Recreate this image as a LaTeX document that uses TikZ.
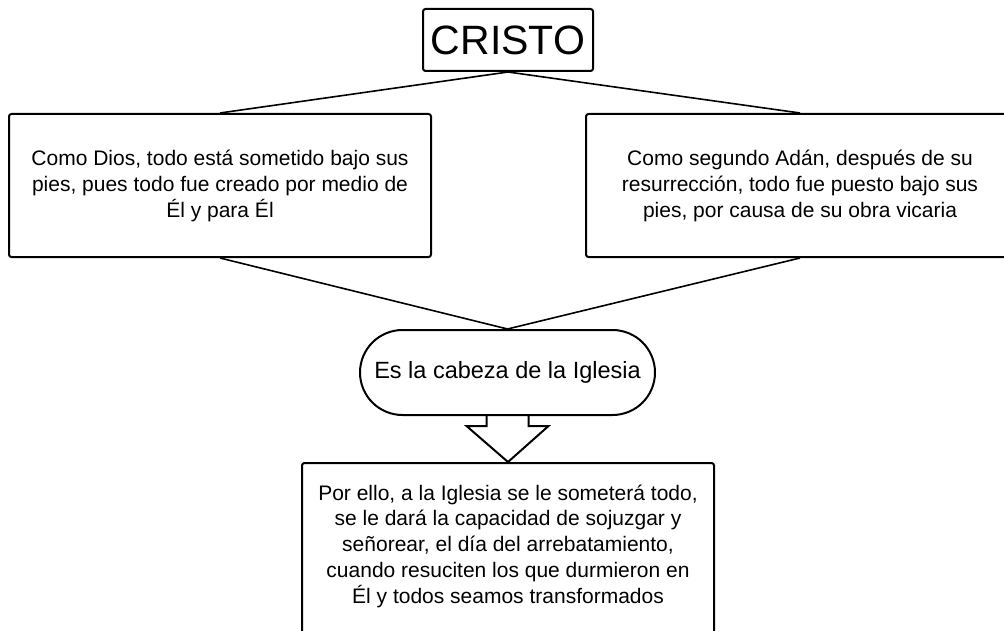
\documentclass[tikz,border=0pt]{standalone}
\usepackage{fontspec}
\setmainfont{Liberation Sans}
\usetikzlibrary{shapes.misc,calc,backgrounds}
\begin{document}
\begin{tikzpicture}[x=1pt,y=-1pt,
  box/.style={draw=black,line width=2pt,rounded corners=2.5pt,fill=white,inner sep=0pt},
  txt/.style={align=center,font=\fontsize{21}{26}\selectfont},
  conn/.style={draw=black,line width=1.6pt},
  oval/.style={draw=black,line width=2pt,rounded rectangle,fill=white,inner sep=0pt}]
\useasboundingbox (0,0) rectangle (1004,631);
\clip (0,0) rectangle (1004,631);
\node[box,minimum width=170pt,minimum height=62pt,font=\fontsize{41}{49}\selectfont] (cristo) at (508,40) {CRISTO};
\node[box,txt,minimum width=422pt,minimum height=143pt] (left) at (220,185.5)
  {Como Dios, todo está sometido bajo sus\\pies, pues todo fue creado por medio de\\Él y para Él};
\node[box,txt,minimum width=428pt,minimum height=143pt] (right) at (800,185.5)
  {Como segundo Adán, después de su\\resurrección, todo fue puesto bajo sus\\pies, por causa de su obra vicaria};
\node[oval,minimum width=295pt,minimum height=85pt,font=\fontsize{23.5}{28}\selectfont] (head) at (507.5,372.5) {Es la cabeza de la Iglesia};
\node[box,minimum width=412pt,minimum height=237pt] (bottom) at (508,581.5) {};
\node[txt,anchor=north] (btext) at ($(bottom.north)+(0,19)$)
  {Por ello, a la Iglesia se le someterá todo,\\se le dará la capacidad de sojuzgar y\\señorear, el día del arrebatamiento,\\cuando resuciten los que durmieron en\\Él y todos seamos transformados};
\begin{pgfonlayer}{background}
\fill[white] (0,0) rectangle (1004,631);
\draw[conn] (cristo.south) -- (left.north);
\draw[conn] (cristo.south) -- (right.north);
\draw[conn] (left.south) -- (head.north);
\draw[conn] (right.south) -- (head.north);
\draw[line width=2pt,fill=white,line join=miter]
  ($(head.south)+(-21,-3)$) -- ($(head.south)+(-21,10)$) -- ($(head.south)+(-41,10)$)
  -- (bottom.north) -- ($(head.south)+(41,10)$) -- ($(head.south)+(21,10)$) -- ($(head.south)+(21,-3)$);
\end{pgfonlayer}
\end{tikzpicture}
\end{document}
